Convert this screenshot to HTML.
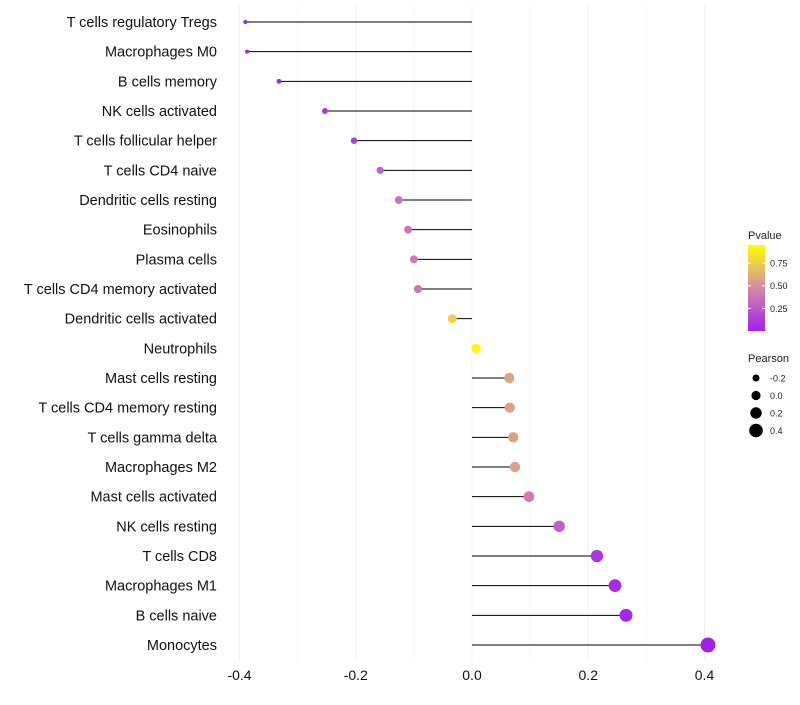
<!DOCTYPE html>
<html><head><meta charset="utf-8"><style>
body{margin:0;background:#fff;font-family:"Liberation Sans",sans-serif}
</style></head><body>
<svg id="c" width="800" height="700" xmlns="http://www.w3.org/2000/svg"></svg>
<script>
const categories=["T cells regulatory  Tregs","Macrophages M0","B cells memory","NK cells activated","T cells follicular helper","T cells CD4 naive","Dendritic cells resting","Eosinophils","Plasma cells","T cells CD4 memory activated","Dendritic cells activated","Neutrophils","Mast cells resting","T cells CD4 memory resting","T cells gamma delta","Macrophages M2","Mast cells activated","NK cells resting","T cells CD8","Macrophages M1","B cells naive","Monocytes"];
const pearson=[-0.39,-0.387,-0.332,-0.253,-0.203,-0.158,-0.126,-0.110,-0.100,-0.093,-0.034,0.007,0.064,0.065,0.071,0.074,0.098,0.150,0.215,0.246,0.265,0.406];
const pvalues=[0.0,0.01,0.03,0.1,0.15,0.3,0.38,0.4,0.42,0.4,0.8,0.97,0.6,0.6,0.6,0.6,0.45,0.3,0.1,0.05,0.03,0.01];
const xTicks=[-0.4,-0.2,0.0,0.2,0.4];
const xMinor=[-0.3,-0.1,0.1,0.3];
const pTicks=[0.25,0.5,0.75];
const sizeTicks=[-0.2,0.0,0.2,0.4];

const svg=document.getElementById('c');
const NS="http://www.w3.org/2000/svg";
function mk(t,a,p){const e=document.createElementNS(NS,t);for(const k in a)e.setAttribute(k,a[k]);(p||svg).appendChild(e);return e;}
const xs=v=>472+v*581.25;
const ys=i=>22+i*(623/21);
const rs=v=>2+(v+0.39)/0.8*5.5;
function col(p){
  const stops=[[0,[160,32,240]],[0.5,[214,138,168]],[1,[255,255,0]]];
  let a=stops[0],b=stops[1];if(p>0.5){a=stops[1];b=stops[2];}
  const t=(p-a[0])/(b[0]-a[0]);
  const c=a[1].map((v,i)=>Math.round(v+(b[1][i]-v)*t));
  return `rgb(${c[0]},${c[1]},${c[2]})`;
}
xMinor.concat(xTicks).forEach(v=>{
  const l=mk('line',{x1:xs(v),x2:xs(v),y1:5,y2:660,stroke:'#f0f0f0','stroke-width':xTicks.includes(v)?1:0.6});
  
  
});
xTicks.forEach(v=>{
  const t=mk('text',{x:xs(v),y:680,'text-anchor':'middle','font-size':14,fill:'#111'});
  t.textContent=v.toFixed(1);
  
  
});
categories.forEach((c,i)=>{
  const y=ys(i);
  const t=mk('text',{x:217,y:y+5,'text-anchor':'end','font-size':14.5,fill:'#111'});
  t.textContent=c;
  
  
  const l=mk('line',{x1:xs(0),x2:xs(pearson[i]),y1:y,y2:y,stroke:'#000','stroke-width':1});
  
  
  const d=mk('circle',{cx:xs(pearson[i]),cy:y,r:rs(pearson[i]),fill:col(pvalues[i])});
  
  
});
const defs=mk('defs',{});
const g=mk('linearGradient',{id:'pg',x1:0,y1:1,x2:0,y2:0},defs);
[0,0.25,0.5,0.75,1].forEach(p=>mk('stop',{offset:p,'stop-color':col(p)},g));
const lt=mk('text',{x:748,y:239,'font-size':11,fill:'#222'});lt.textContent='Pvalue';


const bar=mk('rect',{x:748,y:245,width:17,height:86,fill:'url(#pg)'});


const py=p=>331-(p/0.95)*86;
pTicks.forEach(p=>{
  mk('line',{x1:748,x2:751,y1:py(p),y2:py(p),stroke:'#fff'});
  mk('line',{x1:762,x2:765,y1:py(p),y2:py(p),stroke:'#fff'});
  const t=mk('text',{x:770,y:py(p)+3.5,'font-size':9,fill:'#222'});t.textContent=p.toFixed(2);
  
  
});
const st=mk('text',{x:748,y:362,'font-size':11,fill:'#222'});st.textContent='Pearson';


sizeTicks.forEach((v,i)=>{
  const y=378+i*17.5;
  const c=mk('circle',{cx:756,cy:y,r:3.5+i*1.1,fill:'#000'});
  
  
  const t=mk('text',{x:770,y:y+3.5,'font-size':9,fill:'#222'});t.textContent=v.toFixed(1);
  
  
});
</script>
</body></html>
